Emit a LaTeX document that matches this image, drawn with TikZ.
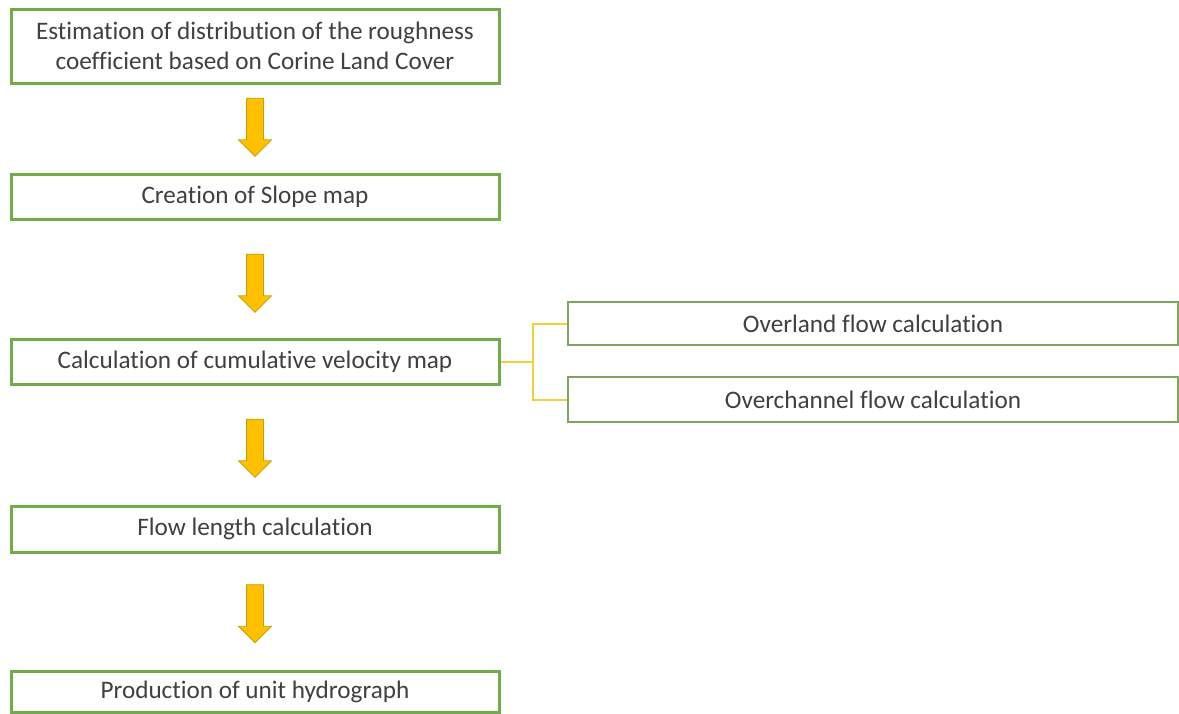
\documentclass[tikz,border=0pt]{standalone}
\usepackage{fontspec}
\setmainfont[Ligatures=NoCommon]{Carlito}
\usetikzlibrary{shapes.arrows}
\definecolor{boxgreen}{HTML}{70AD47}
\definecolor{sidegreen}{HTML}{7FA65F}
\definecolor{gold}{HTML}{FFC000}
\definecolor{golddark}{HTML}{C9A000}
\definecolor{linegold}{HTML}{F2D03A}
\definecolor{txt}{HTML}{404040}
\tikzset{
  stepbox/.style={draw=boxgreen, line width=3pt, fill=white, minimum width=488pt,
    inner sep=0pt, text=txt, font=\fontsize{25.2}{30}\selectfont, align=center},
  sidebox/.style={draw=sidegreen, line width=2.2pt, fill=white, minimum width=610pt,
    minimum height=43pt, inner sep=0pt, text=txt, font=\fontsize{25.2}{30}\selectfont},
  downarrow/.style={single arrow, rotate=-90, fill=gold, draw=golddark, line width=0.8pt,
    minimum height=58pt, inner sep=8pt, single arrow head extend=8pt, outer sep=0pt},
  link/.style={draw=linegold, line width=2pt}
}
\begin{document}
\begin{tikzpicture}[x=1pt,y=-1pt]
\useasboundingbox (0,0) rectangle (1179,713);
\node[stepbox, minimum height=74pt] (b1) at (255,46)
  {Estimation of distribution of the roughness\\coefficient based on Corine Land Cover};
\node[stepbox, minimum height=45pt] (b2) at (255,197) {Creation of Slope map};
\node[stepbox, minimum height=45pt] (b3) at (255,362) {Calculation of cumulative velocity map};
\node[stepbox, minimum height=46pt] (b4) at (255,529) {Flow length calculation};
\node[stepbox, minimum height=41pt] (b5) at (255,691.5) {Production of unit hydrograph};
\node[sidebox] (s1) at (873,323.5) {Overland flow calculation};
\node[sidebox, minimum height=45pt] (s2) at (873,399.5) {Overchannel flow calculation};
\node[downarrow] (a1) at (255,123) {};
\node[downarrow] (a2) at (255,279) {};
\node[downarrow] (a3) at (255,444) {};
\node[downarrow] (a4) at (255,609.5) {};
\coordinate (split) at (533,362);
\draw[link] (b3.east) -- (split);
\draw[link] (split) |- (s1.west);
\draw[link] (split) |- (s2.west);
\end{tikzpicture}
\end{document}
